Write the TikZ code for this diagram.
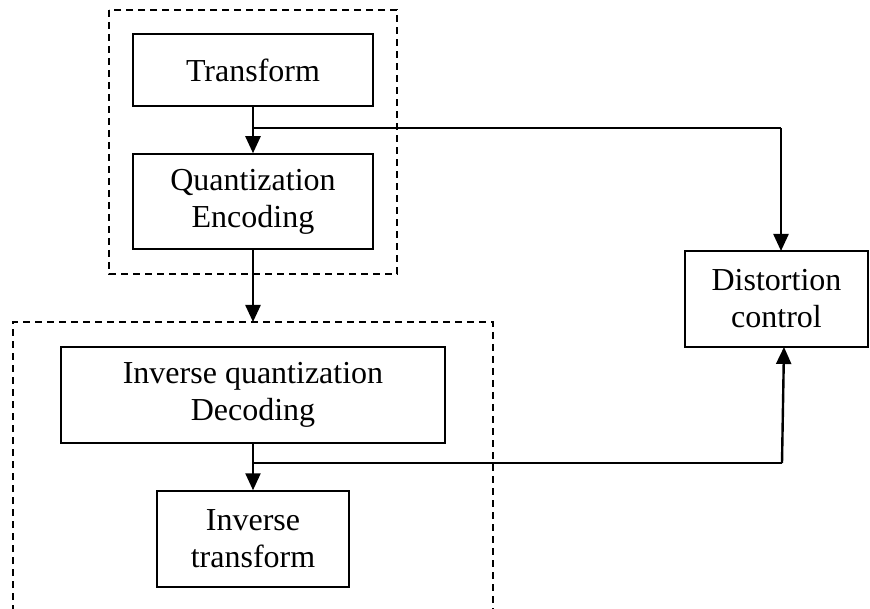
\documentclass[tikz,border=0pt]{standalone}
\usepackage{fontspec}
\setmainfont{Liberation Serif}
\usetikzlibrary{arrows.meta,calc}
\begin{document}
\begin{tikzpicture}[x=1pt,y=-1pt,
  blk/.style={draw,line width=1.5pt,inner sep=0pt,align=center,font=\fontsize{32}{37}\selectfont},
  grp/.style={draw,dashed,line width=1.3pt,dash pattern=on 7pt off 5pt},
  arr/.style={line width=2.4pt,-{Triangle[length=17pt,width=15pt]}},
  lnk/.style={line width=1.5pt}]
\useasboundingbox (0,0) rectangle (870,609);
\draw[grp] (109,10) rectangle (397,274);
\draw[grp] (13,612) -- (13,322) -- (493,322) -- (493,612);
\node[blk,minimum width=240pt,minimum height=72pt] (tr) at (253,70) {Transform};
\node[blk,minimum width=240pt,minimum height=95pt] (qe) at (253,201.5) {Quantization\\Encoding};
\node[blk,minimum width=183pt,minimum height=96pt] (dc) at (776.5,299) {Distortion\\control};
\node[blk,minimum width=384pt,minimum height=96pt] (iq) at (253,395) {Inverse quantization\\Decoding};
\node[blk,minimum width=192pt,minimum height=96pt] (it) at (253,539) {Inverse\\transform};
\coordinate (b1) at (253,128);
\coordinate (c1) at (781,128);
\coordinate (lt) at (253,322);
\coordinate (b2) at (253,463);
\coordinate (c2) at (782,463);
\coordinate (d2) at (784,347);
\coordinate (d1) at (781,251);
\draw[arr] (tr.south) -- (qe.north);
\draw[lnk] (b1) -- (c1);
\draw[arr] (c1) -- (d1);
\draw[arr] (qe.south) -- (lt);
\draw[arr] (iq.south) -- (it.north);
\draw[lnk] (b2) -- (c2);
\draw[arr] (c2) -- (d2);
\end{tikzpicture}
\end{document}
